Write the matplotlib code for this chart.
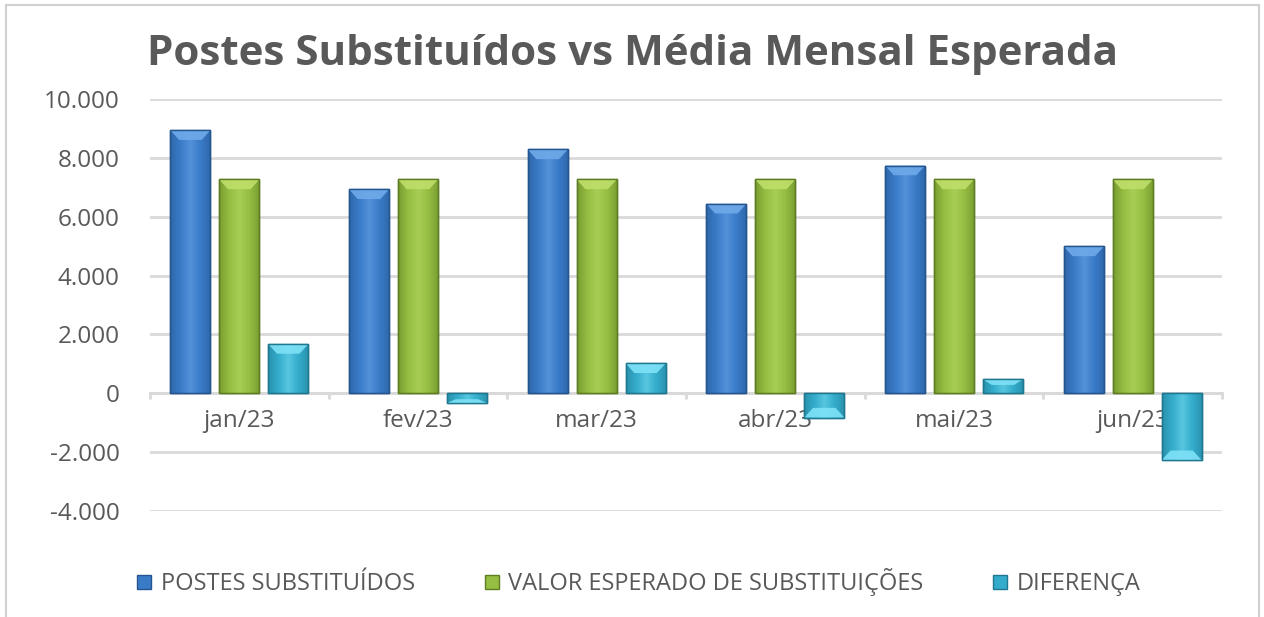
import numpy as np
import matplotlib
matplotlib.use("Agg")
from matplotlib import pyplot as plt
from matplotlib.patches import Polygon, Rectangle
from matplotlib.lines import Line2D
from matplotlib.colors import LinearSegmentedColormap

plt.rcParams['font.family'] = ['Open Sans', 'DejaVu Sans']

months = ["jan/23", "fev/23", "mar/23", "abr/23", "mai/23", "jun/23"]
postes = [8940, 6930, 8285, 6440, 7740, 4990]
esperado = [7265, 7265, 7265, 7265, 7265, 7265]
diferenca = [1675, -335, 1020, -825, 475, -2275]
series_names = ["POSTES SUBSTITUÍDOS", "VALOR ESPERADO DE SUBSTITUIÇÕES", "DIFERENÇA"]
yticks = [-4000, -2000, 0, 2000, 4000, 6000, 8000, 10000]

faces = ["#3A7BC8", "#95BE42", "#33ACCB"]
darks = ["#24558F", "#5E7D22", "#1F7890"]
lights = ["#6FAAEA", "#BEDF6A", "#7EE2F7"]
text_gray = "#595959"

fig = plt.figure(figsize=(12.64, 6.17), dpi=100)
ax = fig.add_axes([150 / 1264, 1 - 511 / 617, 1072 / 1264, 412 / 617])

# chart border
fig.patches.append(Rectangle((6 / 1264, -0.05), 1253 / 1264, 1.05 - 5 / 617,
                             transform=fig.transFigure, fill=False,
                             edgecolor="#D0D0D0", linewidth=1.5))

x = np.arange(len(months))
w = 0.225
step = 0.274
for i, vals in enumerate([postes, esperado, diferenca]):
    bars = ax.bar(x + (i - 1) * step, vals, width=w, color=faces[i],
                  edgecolor=darks[i], linewidth=1.0, zorder=3)
    cmap = LinearSegmentedColormap.from_list(
        "g%d" % i, [darks[i], faces[i], lights[i], faces[i], darks[i]])
    grad = np.linspace(0.05, 0.95, 64).reshape(1, -1)
    for p in bars.patches:
        x0, y0 = p.get_x(), p.get_y()
        bw, bh = p.get_width(), p.get_height()
        im = ax.imshow(grad, cmap=cmap, aspect="auto", interpolation="bicubic",
                       extent=(x0, x0 + bw, min(y0, y0 + bh), max(y0, y0 + bh)),
                       zorder=3.5, alpha=0.5)
        im.set_clip_path(p)
        # bevel at the bar end
        top = y0 + bh
        bev = 330 if bh >= 0 else -330
        if abs(bh) < abs(bev) * 1.6:
            bev = bh * 0.4
        inset = bw * 0.22
        ax.add_patch(Polygon([(x0, top), (x0 + bw, top),
                              (x0 + bw - inset, top - bev), (x0 + inset, top - bev)],
                             closed=True, facecolor=lights[i], edgecolor="none",
                             alpha=0.9, zorder=4))
        ax.add_patch(Rectangle((x0, y0), bw, bh, fill=False, edgecolor=darks[i],
                               linewidth=1.0, zorder=5))

ax.set_xlim(-0.5, len(months) - 0.5)
ax.set_ylim(-4000, 10000)
ax.set_yticks(yticks)
ax.set_yticklabels([f"{v:,}".replace(",", ".") for v in yticks])
ax.yaxis.grid(True, color="#D9D9D9", linewidth=2, zorder=0)
ax.set_axisbelow(True)
for s in ["top", "right", "left"]:
    ax.spines[s].set_visible(False)
ax.spines["bottom"].set_position(("data", 0))
ax.spines["bottom"].set_color("#D9D9D9")
ax.spines["bottom"].set_linewidth(2)

ax.set_xticks(x)
ax.set_xticklabels(months)
ax.set_xticks(np.arange(len(months) + 1) - 0.5, minor=True)
ax.tick_params(axis="x", which="major", length=0, pad=11, labelsize=17.5, labelcolor=text_gray)
ax.tick_params(axis="x", which="minor", length=4.5, width=2, color="#D9D9D9", direction="out")
ax.tick_params(axis="y", length=0, pad=22, labelsize=17.5, labelcolor=text_gray)

fig.text(0.5004, 1 - 65 / 617, "Postes Substituídos vs Média Mensal Esperada",
         ha="center", va="baseline", fontsize=30.3, fontweight="bold", color=text_gray)

handles = [Line2D([], [], marker="s", linestyle="none", markersize=10,
                  markerfacecolor=faces[i], markeredgecolor=darks[i])
           for i in range(3)]
fig.legend(handles, series_names, loc="center", bbox_to_anchor=(0.5044, 1 - 582 / 617),
           ncol=3, frameon=False, fontsize=17, labelcolor=text_gray,
           handletextpad=0.3, columnspacing=2.85, handlelength=0.8)

fig.savefig("out.png", dpi=100, facecolor="white")
